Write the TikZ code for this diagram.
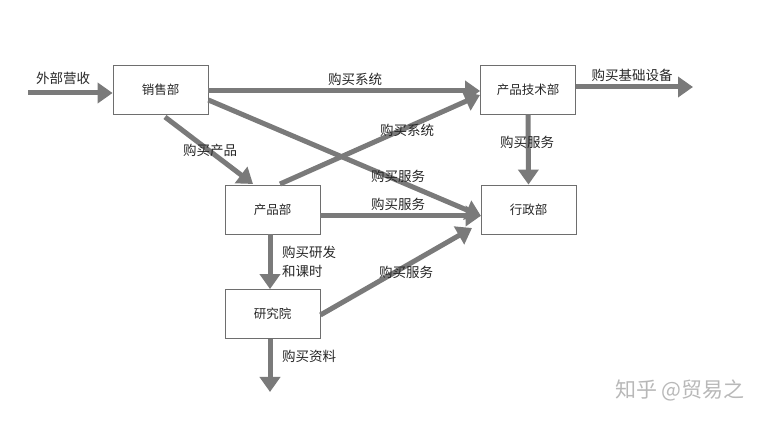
\documentclass[tikz,border=0pt]{standalone}
\usepackage{fontspec}
\setmainfont{Noto Sans CJK SC}
\usetikzlibrary{arrows.meta}
\definecolor{arr}{HTML}{7A7A7A}
\definecolor{bord}{HTML}{6E6E6E}
\begin{document}
\begin{tikzpicture}[x=1pt,y=-1pt,
  box/.style={draw=bord,line width=0.8pt,minimum width=95pt,minimum height=49pt,inner sep=0pt,font=\fontsize{12.5}{14}\selectfont,text=black!85},
  flow/.style={draw=arr,line width=5pt,-{Triangle[length=15pt,width=20pt]}},
  lbl/.style={font=\fontsize{13.5}{19}\selectfont,text=black!85,inner sep=0pt,align=left}]
\useasboundingbox (0,0) rectangle (772,422);
\node[box] (sales) at (160.5,89.5) {销售部};
\node[box] (tech) at (528,89.5) {产品技术部};
\node[box] (prod) at (272.5,209.5) {产品部};
\node[box] (admin) at (528.5,209.5) {行政部};
\node[box] (lab) at (272.5,314) {研究院};
\coordinate (inS) at (28,93);
\coordinate (outT) at (693,87);
\coordinate (outL) at (270,392);
% arrows
\draw[flow] (inS) -- (sales.west |- inS);
\draw[flow] (sales.east |- 0,91) -- (tech.west |- 0,91);
\draw[flow] (tech.east |- outT) -- (outT);
\draw[flow] (sales.east |- 0,100) -- (481,216);
\draw[flow] (165,117) -- (253,184);
\draw[flow] (280,184) -- (480,95);
\draw[flow] (prod.east |- 0,216) -- (admin.west |- 0,216);
\draw[flow] (tech.south) -- (admin.north);
\draw[flow] (prod.south -| 270,0) -- (lab.north -| 270,0);
\draw[flow] (lab.east |- 0,315) -- (472,228);
\draw[flow] (lab.south -| 270,0) -- (outL);
% labels
\node[lbl] (l1) at (63,78) {外部营收};
\node[lbl] (l2) at (355,79) {购买系统};
\node[lbl] (l3) at (632,75) {购买基础设备};
\node[lbl] (l4) at (210,150) {购买产品};
\node[lbl] (l5) at (407,130) {购买系统};
\node[lbl] (l6) at (398,176) {购买服务};
\node[lbl] (l7) at (398,204) {购买服务};
\node[lbl] (l8) at (527,142) {购买服务};
\node[lbl,anchor=west] (l9) at (282,262) {购买研发\\和课时};
\node[lbl] (l10) at (406,272) {购买服务};
\node[lbl,anchor=west] (l11) at (282,356) {购买资料};
\node[font=\fontsize{21}{24}\selectfont,text=black!28,inner sep=0pt] (wm) at (680,390) {知乎 @贸易之};
\end{tikzpicture}
\end{document}
